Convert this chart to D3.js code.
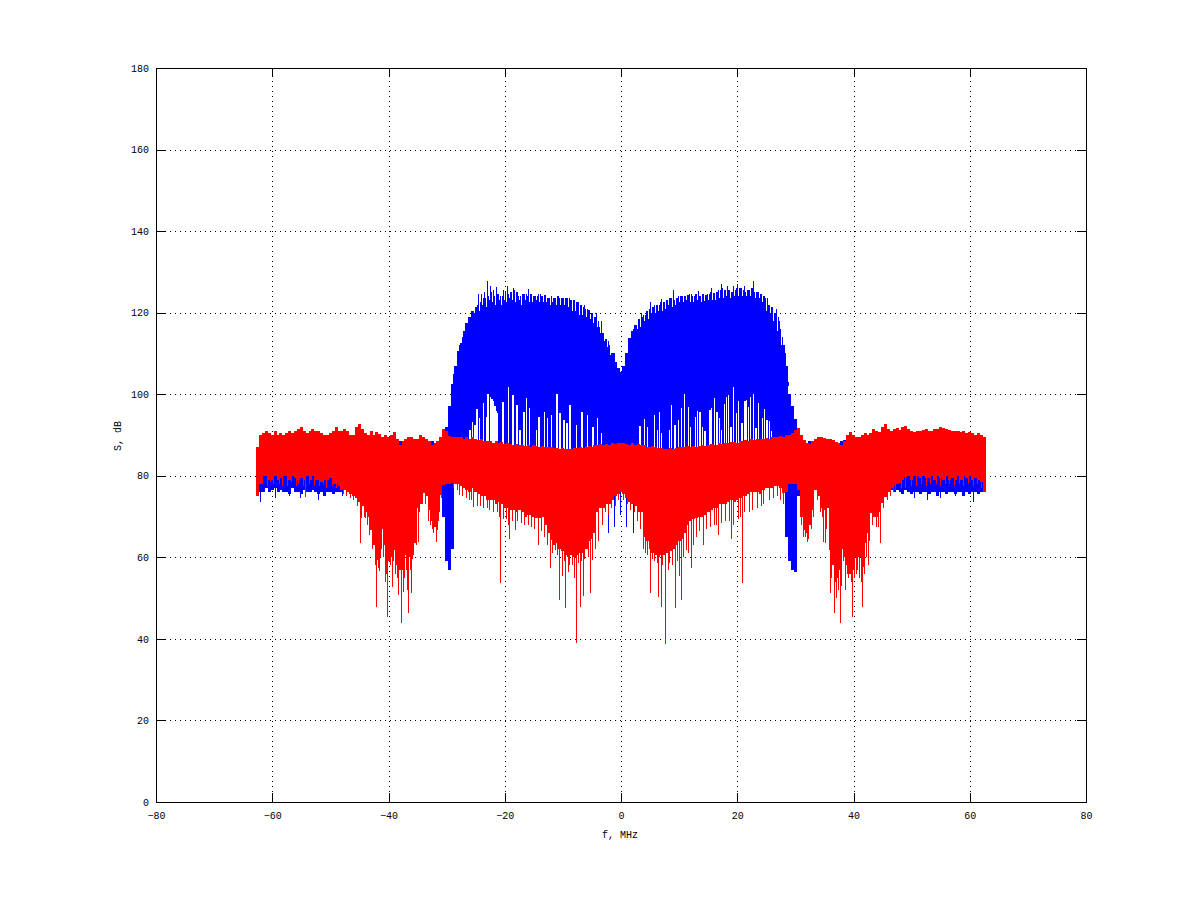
<!DOCTYPE html>
<html><head><meta charset="utf-8">
<script src="https://cdn.jsdelivr.net/npm/d3@7"></script>
<style>html,body{margin:0;padding:0;background:#fff}svg{display:block}text{font-family:"Liberation Mono",monospace;font-size:10px;fill:#000}</style>
</head><body><div id="chart"></div>
<script>
const xTicks=[-80,-60,-40,-20,0,20,40,60,80];
const yTicks=[0,20,40,60,80,100,120,140,160,180];
const xLabel="f, MHz", yLabel="S, dB";
// envelope of each trace, one value per 0.5 MHz from -62.5 to 62.5
const freqs=d3.range(-62.5,62.75,0.5);
const redTop=[
87,90,90.5,91,90.5,90,91,90,90.5,90,
90.5,91,90.5,91,91.5,92,91,90.5,91,91.5,
91,91,90.5,90,90,90.5,91,92,91,91,
91.5,91,90,90,92,92.8,91.5,90.5,90,91,
90,90.8,90.2,89.5,90,89.5,90,90.8,89,87.5,
88.5,89,89.5,89.5,89,89,90,89.5,89,88.5,
87.5,88,88.5,89.5,91.5,91,89.8,89.5,89.5,89.5,
89.5,89,89.5,89,89.5,89,88.8,89,88.5,88.5,
88.5,88,88.5,88,88.3,87.8,88,87.8,87.5,87.8,
87.5,87.5,87.3,87.5,87,87.5,87.2,87,87.2,87,
87,87,86.8,86.8,86.5,86.8,86.5,86.6,86.5,86.8,
86.8,87,86.8,87,87.3,87,87.5,87.5,87.8,87.5,
87.8,87.5,88,87.8,88,
88,
88,87.8,87.5,88,87.5,
87.8,87.5,87.5,87,87,87.3,87,86.8,86.8,86.6,
86.5,86.8,86.5,86.8,87,87,87,87.2,87,87.2,
87,87.2,87.5,87.3,87.5,87.8,87.5,87.5,88,87.8,
88,88,88.3,88.3,88,88.5,88.5,88.8,88.5,89,
88.8,89,89,89,89.2,89,89.5,89.5,89.5,89.8,
89.5,90,90,90.5,91.3,91.6,90,88.8,88,87.8,
88.5,89,89.5,89.6,89.2,89,89,88.8,88.2,88,
87.6,88.5,90,90.8,90,89.5,89.5,90,90.4,90,
90.5,91.5,91,90.8,92,92.7,91.5,91,91.5,91.7,
91.2,92,92.2,91.5,91,90.8,91,91,91.3,91.5,
91,91,91.5,91.5,92,91.8,91.5,91.3,91,91,
91,90.8,91,90.5,90.8,90.5,90,90.5,90,89.5];
const redBottom=[
75,78,80,80,79,79,80,79,79.5,80,
80,79,80,79.5,79,79.5,79,80,79,80,
79,79,78.5,79,79,79.5,78,78,77.5,76.5,
76.5,76,75.5,75,74.5,73.5,72.5,71,70,66.7,
63,59.3,60,67,63,59,60,61.8,58,57,
57,60.5,60,59.5,63.5,72,73,75.7,75,71.6,
69,67.5,69,75.3,77.7,78,78,78.3,78,78,
77.5,77,76.5,76,77,76,75.5,75,75,74,
74,74,73,73.5,73,72,72,71.5,71.5,71,
71.6,71,70,70.5,70.5,70,69.6,69.6,70,68,
66,64.2,63,63.5,62,61.5,60.6,60,60.5,60,
60.6,61,61,62,64,64.5,66,71,72,72,
73,73,74,75,75.5,
76,
75.5,74.5,73.5,73,72.5,
71,71,65,64,62,61,60.5,60,60.5,60.6,
61,61.5,62,63,64,64.5,66,68,69,69.5,
69.6,70,70,70.5,71,71.5,72,72,73,73,
73,73.5,74,73.5,74,74.5,75,75,75.5,76,
76,76,75.5,76.5,77,77,77,77.5,77.5,77,
75.8,76,78,78,78,76.5,70,66.7,66,68,
71.6,76.5,75,72,71.5,72,61.8,58,55,57,
62,60,58,56,57,60,60,57.7,63.5,66,
70.9,70,70,71,73.3,74.8,76,77,77.5,78,
78.2,79,79.7,80,79,80,80,79.5,80,79.5,
79.5,80,79,80,79.5,79,80,79,79.5,79,
80,79,80,79.5,80,79,79.5,79,78.5,76];
const blueTop=[
86,86,86,86,86,86,86,86,86,86,
86,86,86,86,86,86,86,86,86,86,
86,86,86,86,86,86,86,86,86,86,
86,86,86,86,86,86,86,86,86,86,
86,86,86,86,86,86,86,86,86,88.5,
88.5,86,86,86,86,86,86,86,86,86,
88.5,86,86,86,89,92,97,102.5,107,110.5,
112.5,115.5,117.5,119,120.5,121.5,122,122.5,123.5,124,
125,124,124.5,124.5,124,125,124.5,125,125.5,125,
124,124.5,124.5,124,124.5,124.2,124,124.5,124,124.3,
123.5,124,123.5,124,123.6,123.5,123.5,123.6,123,123,
122.5,122,121.5,120.8,120.6,120,119,118,116.5,115,
113.5,112,110,108,106.5,
105.5,
107,110,113.7,115.5,117,
118.5,119,119.5,120.5,121,121.5,122,122,122.5,122.5,
123,123.5,123,123.5,124,124,124,124.3,124.5,124,
124.5,124,124.5,124.3,124.5,125,124.8,125,125.5,126,
125.5,125.5,125,125.5,126,126,125.5,125,125.5,126,
125,125,124.5,124,123.5,122,121.5,120,119,116,
112,107,100,97,94,88,86,86,86,88.5,
86,86,86,86,86,86,86,86,86,86,
88.5,88.7,86,86,86,86,86,86,86,86,
86,86,86,86,86,86,86,86,86,86,
86,86,86,86,86,86,86,86,86,86,
86,86,86,86,86,86,86,86,86,86,
86,86,86,86,86,86,86,86,86,86];
const blueBottom=[
75,76,76,77,76,76.5,77,76,76.5,76,
76,75.5,77,76,76,75.5,76.5,76,76,76.5,
76,75.5,76,75,76,76,75.5,76,76,76,
78,78,78,78,78,78,78,78,78,78,
78,78,78,78,78,78,78,78,78,78,
78,78,78,78,78,78,78,78,78,78,
78,78,78,78,70,59,57,62,78,78,
78,78,78,78,78,78,78,78,78,78,
78,78,78,78,78,78,78,78,78,78,
78,78,78,78,78,78,78,78,78,78,
78,78,78,78,78,78,78,78,78,78,
78,78,78,78,78,78,78,78,78,78,
78,78,78,78,78,
78,
78,78,78,78,78,
78,78,78,78,78,78,78,78,78,78,
78,78,78,78,78,78,78,78,78,78,
78,78,78,78,78,78,78,78,78,78,
78,78,78,78,78,78,78,78,78,78,
78,78,78,78,78,78,78,78,78,78,
78,65,59,57,56.5,75,78,78,78,78,
78,78,78,78,78,78,78,78,78,78,
78,78,78,78,78,78,78,78,78,78,
78,78,78,78,78,78,78,76.5,76,76.5,
76,75.5,76.5,76,75.5,76,76,75.5,76,76,
75.5,76,76,75,76,76,75.5,76,76,75.5,
76,76,75,76,75.5,76,76,75.5,76,76.5];
// narrow downward excursions of the red trace [MHz, dB]
const redSpikeF=[-54.3,-44.9,-44.6,-43.9,-43.2,-42,-41.5,-40.6,-40.1,-39.3,-38.2,-37.8,-37.5,-36.8,-36.6,-36,-35.1,-34.9,-32.5,-31.8,-31.5,-27.7,-25.3,
-20.7,-19.1,-18.2,-14.2,-12.2,-11.3,-10.5,-10.1,-9.5,-9.1,-8,-7.7,-7,-6.5,-5.3,-4.9,
4.2,5.1,6.4,6.9,7.6,8.1,9.4,10,10.4,11.2,12.1,14.2,16.8,19,20.9,
31.4,32,34.8,35.2,36.1,36.7,37.1,37.7,38.7,39.9,40.5,41.5,42.5,44.6,
-61.6,-60.9,-60.3,-59.7,-58.8,-58.2,-57.3,-56.7,-55.9,-55.4,-54.7,-53.6,-52.8,-51.9,-51.2,-50.6,-49.7,-48.9,-48.3,-47.7,-47.2,-46.6,-46.1,-45.4,-44.2,-43.6,-42.8,-42.3,-41.8,-41.2,-40.8,-40.3,-39.7,-39.1,-38.8,-38.5,-37.2,-36.9,-36.2,-35.7,-35.4,-34.7,-34.2,-33.7,-33.2,-32.8,-32.2,-31.2,-30.8,-28.8,-28.2,-27.3,-26.6,-26.1,-25.7,-24.7,-24.2,-23.6,-23,-22.6,-22,-21.3,-20.9,-20.3,-19.7,-19.4,-18.6,-17.8,-17.2,-16.6,-16,-15.4,-14.8,-13.7,-13.2,-12.7,-11.7,-11,-9.8,-8.8,-8.3,-7.3,-6.8,-6.2,-5.6,-4.4,-3.8,-3.2,-2.7,-2.1,-1.6,-1,-0.4,
0.4,1.1,1.7,2.3,2.8,3.3,3.9,4.6,5.4,5.8,6.2,7.2,8.4,8.9,9.8,10.7,11.6,12.5,13,13.5,14.7,15.4,16,16.4,17.3,17.9,18.7,19.4,20.2,20.6,21.3,22.1,22.7,23.4,24.1,24.6,25.5,26.3,26.9,27.5,27.9,31.1,31.7,32.3,32.7,33.2,33.8,34.3,34.6,35.4,35.8,36.3,36.9,37.4,37.9,38.2,38.9,39.2,39.7,40.2,40.7,41,41.3,41.9,42.2,42.8,43.3,43.9,44.3,45.2,45.8,46.3,46.9,47.3,48.2,49,50,50.9,51.7,52.5,53.3,54.2,54.9,55.8,56.6,57.4,58.3,59,59.8,60.6,61.3,62];
const redSpikeDb=[74.7,63.5,69.6,69.6,65.5,47.8,56.6,54,45.4,52.7,50.8,43.9,51.5,52,46.3,51.2,63,63.8,67,63.8,66.7,75.3,72.3,
53.7,64.6,66.7,63,57.4,61.8,49.5,55.3,47.5,56.5,55,38.9,47.8,50.4,51.3,59.3,
61,51.3,50.3,47.8,38.8,57,47.5,55.3,49.5,61.8,57.4,63,65.5,64.6,53.7,
65,63.8,63.8,63.5,51.2,46.3,50,44,52,45.4,56,47.8,58,63.5,
78,77.5,78.5,78,78,77.5,77.5,78.5,77.5,78,77.5,78,77.5,77.5,78,77,77.5,77,76.5,75.5,75,74.5,74,72.5,70,68,62,58,57.5,62,60,56,58,59,56,55,55,57,57,60.5,68,71,73,73,69,68,66,71,74.5,77,76.5,75,74.5,74,74,72.5,72.5,72,72,71.5,71,71,70,69.5,69.5,68,69,69,68.5,68,68,67.5,67,66.5,65,63,61,60.5,59,58,58,58.5,59,59.5,60,62,64,68,71,70.5,72,72.5,74,
74,73,71.5,71,69,67,62,60.5,59.5,59,58.5,58,58.5,58,59,60,61,63,65,66.5,67,67.5,68,68,68.5,69,69,68,69.5,70,71,71,71.5,72,72.5,73,74,74.5,75,74,73,68,65,64.5,67,70,74,71,70,67,67,55,54,52,53,59,56,55,54,55,57,55,54,56,60,64,68,67.5,67.5,72,74,75,76,76.5,77,77,77.5,77.5,78,77.5,78,78,77.5,78,78,77.5,78,77.5,78,77.5,78,77];
// narrow downward excursions of the blue trace
const blueSpikeF=[-62.1,-59.5,-57,-55.2,-52,-48,-2.2,-1.2,-0.1,1,2.1,50.5,52.7,55,57.5,60.7];
const blueSpikeDb=[73.5,74.5,75,74.5,74,75,66,67.5,70.4,67.5,66,74.5,74,74.5,75,73.5];
// upward excursions of the blue top
const blueTopF=[-28.8,-28.2,-27.7,-27.2,-26.7,-26.2,-24,-23.4,-22.9,-22.4,-21.9,-21.5,-20.3,-19.5,-18.5,-16,-24.5,-6.3,-4.3,-3.3,-2.2,-1.2,1.3,2.2,3.6,5.1,7,9,11.2,13.4,15.5,17.3,18.4,19.3,20,21.2,22.8,24.7,26.7,27.3,27.8,28.3,28.8];
const blueTopDb=[105,109,112,114,116.5,118.5,124.5,125,127.8,126.5,125.5,126.3,125.5,126.5,126,125.8,124.5,122,120,118,113,110,112.5,116,120,122.5,123.3,125.5,125,125.3,126,127,126.5,126.5,127,126.5,127.7,124,121,118,114,110,103];
// notches cut into the blue top
const notchF=[-25.2,-24.4,-23.8,-23.1,-22.7,-22.1,-21.6,-20.9,-20.6,-20.1,-19.7,-19.1,-18.7,-18.2,-17.5,-17.1,-16.4,-15.8,-15.2,-14.6,-14,-13.4,-12.8,-12.2,-11.7,-11.1,-10.4,-9.7,-9.1,-8.4,-7.8,-7.2,-6.6,-5.9,-5.3,-4.7,-4.1,-3.5,-2.9,-2.4,-1.8,
2.8,3.4,4.1,4.7,5.3,5.9,6.5,7.1,7.7,8.2,8.8,9.4,10,10.7,11.3,11.9,12.4,13.1,13.8,14.4,15,15.7,16.3,16.9,17.6,18.2,18.8,19.5,20.3,20.9,21.6,22.2,23.1,23.8,24.4,25.1,25.7,26.3,27,27.6];
const notchDb=[120,120.5,122,121.5,123,122.5,122,123,122,123,122.5,123.5,123,122.5,123,122,123,122.5,122.5,123,122.5,122.5,122.5,122,122.5,122,122,122,121.5,120.5,120.5,119.5,119.5,119,118.5,117.5,116.5,115,113,111.5,109.5,
116,116.5,118,118.5,120,120,120.5,120.5,121,122,121.5,122,122.5,122.5,123,122.5,122.5,123,122.5,122.8,123,123,123,123.5,123.5,124,123.5,124,124,124,124,124,123.5,123.5,122.5,120.5,120,118,115.5,112];
// places where the blue trace leaves a white slit above the red band
const gapF=[-26,-25.6,-25.1,-24.8,-24.4,-23.7,-23.2,-22.9,-22.4,-22.2,-22,-21.7,-21.4,-21.2,-20.3,-19.4,-18.6,-17.9,-17.4,-16.7,-16.2,-15.7,-14.5,-14.1,-13.2,-12.7,-11.9,-11,-10.5,-9.8,-9.3,-8.8,-7.7,-6.7,-5.8,-4.8,-4.1,-3.3,
3.27,4,4.5,5.8,6.25,6.65,7,8.3,8.7,9.3,9.86,10.4,10.9,11.6,12,12.8,13.2,13.6,14,14.45,15.3,15.6,16.05,16.5,16.9,17.3,17.8,18.2,18.5,18.9,19.3,19.9,20.2,20.8,21.2,21.4,21.6,21.9,22.25,22.8,23.2,23.7,24.3,24.7,25.1,25.6,25.9];
const gapDb=[91.2,93.2,92.4,96.4,94.2,97.8,94.4,100,99.3,98.8,98.4,97,96,95.4,98,101.8,99.8,97.4,91.2,95.7,99,96.6,91.2,94.4,95.7,94.2,95,100,95.4,93.7,93,97.4,92.4,95.7,95,92,94.2,90.5,
92.2,94,92,94.9,91.2,95.7,90.4,91.2,97.4,92.4,93.7,96.5,100,96.9,92,94.5,95.9,95.7,92,91,96.1,96.5,99,95.7,94.1,91.2,97.6,99.4,99.8,92,101.7,95.3,98.4,92.9,98.4,98.4,98.5,96.9,99.4,100,91.6,97.8,94.1,96.4,93.7,93.5,90.9];

const W=1200,H=901;
const x=d3.scaleLinear().domain([-80,80]).range([156,1086]);
const y=d3.scaleLinear().domain([0,180]).range([802,68]);
const svg=d3.select("#chart").append("svg").attr("width",W).attr("height",H);
const colW=Math.ceil(x(0.5)-x(0));

// grid
const grid=svg.append("g").attr("stroke","#000").attr("stroke-width",1).attr("shape-rendering","crispEdges");
grid.selectAll(".gx").data(xTicks.slice(1,-1)).join("line")
 .attr("x1",d=>x(d)+.5).attr("x2",d=>x(d)+.5).attr("y1",y(180)).attr("y2",y(0)).attr("stroke-dasharray","1 4").attr("stroke-dashoffset",2);
grid.selectAll(".gy").data(yTicks.slice(1,-1)).join("line")
 .attr("x1",x(-80)).attr("x2",x(80)).attr("y1",d=>y(d)+.5).attr("y2",d=>y(d)+.5).attr("stroke-dasharray","1 4").attr("stroke-dashoffset",1);

// slits and notches in blue
const defs=svg.append("defs");
const mask=defs.append("mask").attr("id","slits").attr("maskUnits","userSpaceOnUse")
 .attr("x",0).attr("y",0).attr("width",W).attr("height",H);
mask.append("rect").attr("width",W).attr("height",H).attr("fill","#fff");
mask.append("g").selectAll("line").data(gapF).join("line")
 .attr("x1",d=>x(d)).attr("x2",d=>x(d)).attr("y1",y(84)).attr("y2",(d,i)=>y(gapDb[i]))
 .attr("stroke","#000").attr("stroke-width",1.3).attr("shape-rendering","crispEdges");
mask.append("g").selectAll("line").data(notchF).join("line")
 .attr("x1",d=>x(d)).attr("x2",d=>x(d)).attr("y1",(d,i)=>y(notchDb[i])).attr("y2",y(130))
 .attr("stroke","#000").attr("stroke-width",1).attr("shape-rendering","crispEdges");

function columns(g,fs,lo,hi,color,w){
 g.append("g").attr("stroke",color).attr("stroke-width",w).attr("shape-rendering","crispEdges")
  .selectAll("line").data(fs).join("line")
  .attr("x1",d=>x(d)).attr("x2",d=>x(d))
  .attr("y1",(d,i)=>y(lo[i])).attr("y2",(d,i)=>y(hi[i]));
}
const blue=svg.append("g").attr("mask","url(#slits)");
columns(blue,freqs,blueBottom,blueTop,"#00f",colW);
columns(blue,blueTopF,blueTopDb.map(()=>102),blueTopDb,"#00f",1);
columns(svg,blueSpikeF,blueSpikeDb,blueSpikeF.map(()=>80),"#00f",1);
columns(svg,freqs,redBottom,redTop,"#f00",colW);
columns(svg,redSpikeF,redSpikeDb,redSpikeF.map(()=>80),"#f00",1);

// frame and axes
svg.append("rect").attr("x",x(-80)+.5).attr("y",y(180)+.5).attr("width",x(80)-x(-80)).attr("height",y(0)-y(180))
 .attr("fill","none").attr("stroke","#000").attr("shape-rendering","crispEdges");
const style=g=>{g.select(".domain").remove();g.selectAll("line").attr("stroke","#000").attr("shape-rendering","crispEdges");g.selectAll("text").style("font-family",'"Liberation Mono",monospace').style("font-size","10px");};
svg.append("g").attr("transform",`translate(0,${y(0)})`).call(d3.axisBottom(x).tickValues(xTicks).tickSizeInner(-9).tickPadding(10).tickSizeOuter(0)).call(style);
svg.append("g").attr("transform",`translate(0,${y(180)})`).call(d3.axisTop(x).tickValues(xTicks).tickSizeInner(-9).tickFormat("").tickSizeOuter(0)).call(style);
svg.append("g").attr("transform",`translate(${x(-80)},0)`).call(d3.axisLeft(y).tickValues(yTicks).tickSizeInner(-9).tickPadding(7).tickSizeOuter(0)).call(style);
svg.append("g").attr("transform",`translate(${x(80)},0)`).call(d3.axisRight(y).tickValues(yTicks).tickSizeInner(-9).tickFormat("").tickSizeOuter(0)).call(style);
svg.append("text").attr("x",620).attr("y",838).attr("text-anchor","middle").text(xLabel);
svg.append("text").attr("transform","translate(121,436) rotate(-90)").attr("text-anchor","middle").text(yLabel);
</script></body></html>
